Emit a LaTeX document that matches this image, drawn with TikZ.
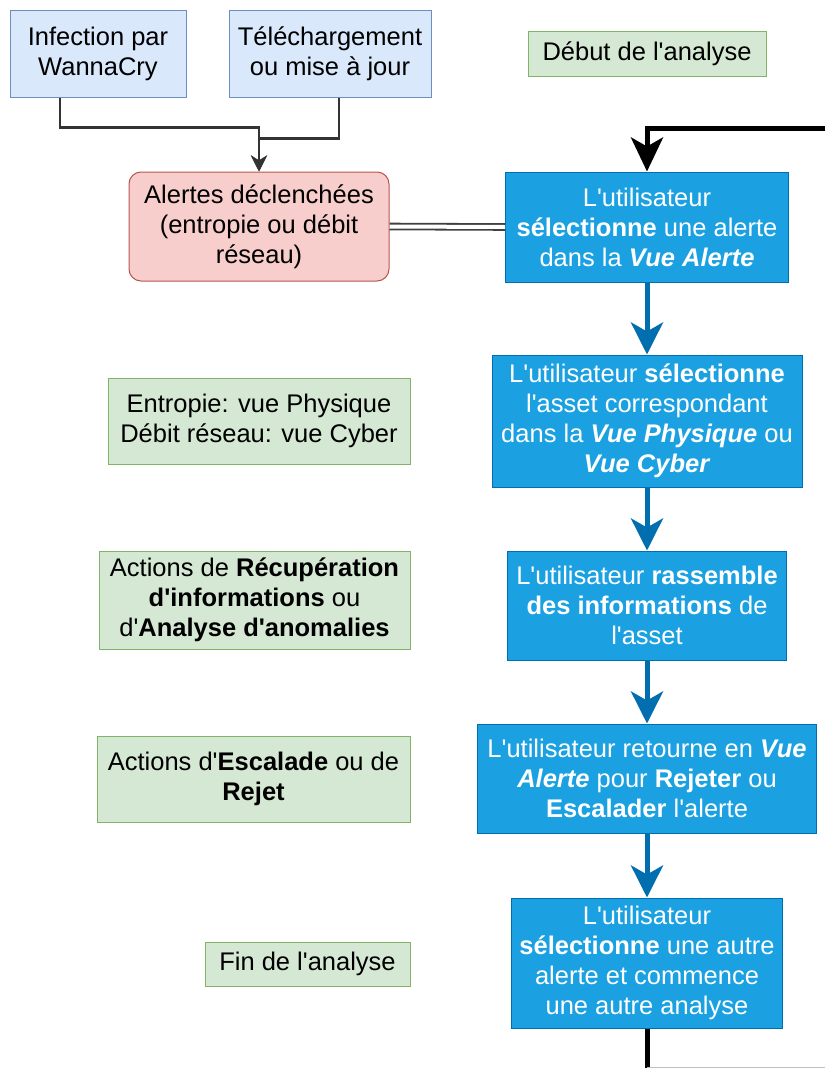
\documentclass[tikz,border=0pt]{standalone}
\usepackage{fontspec}
\setmainfont{Liberation Sans}
\usetikzlibrary{arrows.meta,positioning}
\definecolor{bluefill}{HTML}{1BA1E2}
\definecolor{blueline}{HTML}{006EAF}
\definecolor{inputfill}{HTML}{DAE8FC}
\definecolor{inputline}{HTML}{6C8EBF}
\definecolor{notefill}{HTML}{D5E8D4}
\definecolor{noteline}{HTML}{82B366}
\definecolor{alertfill}{HTML}{F8CECC}
\definecolor{alertline}{HTML}{B85450}
\newcommand{\q}{\textquotesingle}

\begin{document}
\begin{tikzpicture}[x=1pt,y=-1pt,>=Stealth,
  font=\fontsize{25.5}{30}\selectfont,
  box/.style={draw,line width=1pt,align=center,inner sep=2pt},
  inputbox/.style={box,fill=inputfill,draw=inputline},
  notebox/.style={box,fill=notefill,draw=noteline},
  alertbox/.style={box,fill=alertfill,draw=alertline,rounded corners=12pt},
  stepbox/.style={box,fill=bluefill,draw=blueline,text=white},
  flow/.style={-{Stealth[length=32pt,width=32pt,inset=9pt]},blueline,line width=5pt},
  loopline/.style={black,line width=5pt},
  feed/.style={-{Stealth[length=16pt,width=16pt,inset=5pt]},black!80,line width=2.5pt}]
\useasboundingbox (0,0) rectangle (825,1068);
% Sources
\node[inputbox,minimum width=176pt,minimum height=87pt] (infect) at (98,53.5) {Infection par\\WannaCry};
\node[inputbox,minimum width=202pt,minimum height=87pt] (dl) at (330,53.5) {Téléchargement\\ou mise à jour};
\node[alertbox,minimum width=260pt,minimum height=109pt] (alertes) at (259,226.5) {Alertes déclenchées\\(entropie ou débit\\réseau)};
% Notes
\node[notebox,minimum width=238pt,minimum height=45pt] (debut) at (647,53.5) {Début de l\q analyse};
\node[notebox,minimum width=302pt,minimum height=86pt] (entropie) at (259,421) {Entropie: vue Physique\\Débit réseau: vue Cyber};
\node[notebox,minimum width=311pt,minimum height=98pt] (recup) at (254.5,600) {Actions de \textbf{Récupération}\\\textbf{d\q informations} ou\\d\q\textbf{Analyse d\q anomalies}};
\node[notebox,minimum width=313pt,minimum height=86pt] (escal) at (253.5,779) {Actions d\q\textbf{Escalade} ou de\\\textbf{Rejet}};
\node[notebox,minimum width=205pt,minimum height=44pt] (fin) at (307.5,964) {Fin de l\q analyse};
% Steps
\node[stepbox,minimum width=283pt,minimum height=110pt] (s1) at (647,227) {L\q utilisateur\\\textbf{sélectionne} une alerte\\dans la \textbf{\textit{Vue Alerte}}};
\node[stepbox,minimum width=310pt,minimum height=132pt] (s2) at (647,421) {L\q utilisateur \textbf{sélectionne}\\l\q asset correspondant\\dans la \textbf{\textit{Vue Physique}} ou\\\textbf{\textit{Vue Cyber}}};
\node[stepbox,minimum width=279pt,minimum height=109pt] (s3) at (647,605.5) {L\q utilisateur \textbf{rassemble}\\\textbf{des informations} de\\l\q asset};
\node[stepbox,minimum width=339pt,minimum height=109pt] (s4) at (647,778.5) {L\q utilisateur retourne en \textbf{\textit{Vue}}\\\textbf{\textit{Alerte}} pour \textbf{Rejeter} ou\\\textbf{Escalader} l\q alerte};
\node[stepbox,minimum width=271pt,minimum height=130pt] (s5) at (647,963) {L\q utilisateur\\\textbf{sélectionne} une autre\\alerte et commence\\une autre analyse};
% loop ends
\coordinate (loopin) at (825,128);
\coordinate (loopout) at (647,1068);
\coordinate (loopend) at (825,1067);
% connectors
\draw[feed] ([xshift=-38pt]infect.south) |- ([yshift=44pt]alertes.north) -- (alertes.north);
\draw[feed] ([xshift=9pt]dl.south) |- ([yshift=33pt]alertes.north) -- (alertes.north);
\draw[black!75,double=white,double distance=4pt,line width=1.8pt] (alertes.east) -- (s1.west);
\foreach \a/\b in {s1/s2,s2/s3,s3/s4,s4/s5}{\draw[flow] (\a.south) -- (\b.north);}
\draw[loopline,-{Stealth[length=34pt,width=32pt,inset=9pt]}] (loopin) -| (s1.north);
\draw[loopline] (s5.south) -- (loopout);
\draw[black!25,line width=1pt] (loopout) |- (loopend);
\end{tikzpicture}
\end{document}
